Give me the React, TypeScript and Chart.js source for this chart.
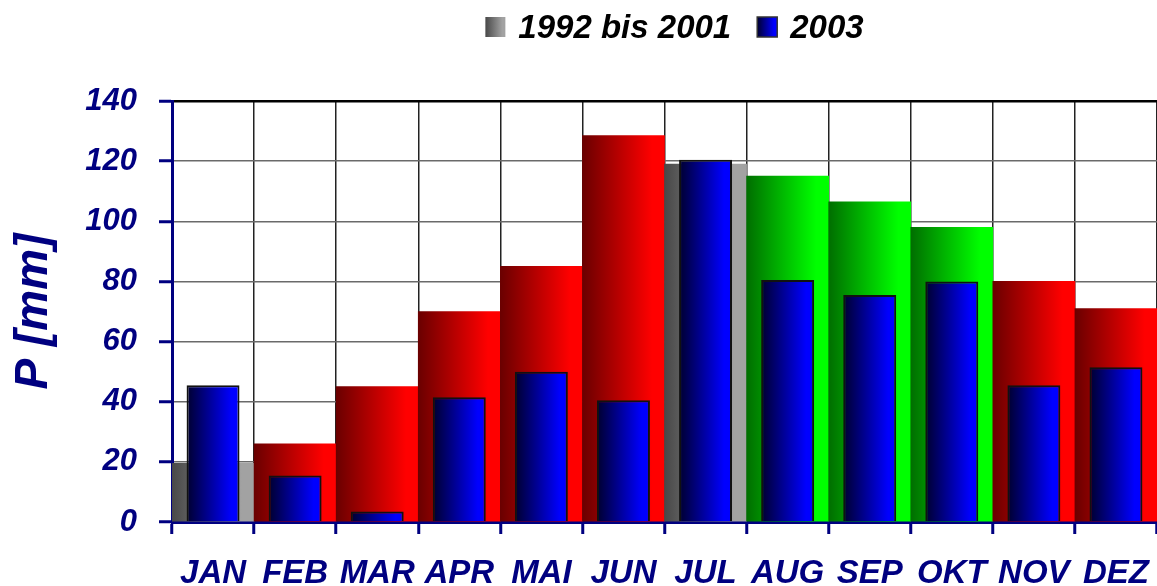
import { useEffect, useRef } from 'react';
import { Chart, registerables } from 'chart.js';

Chart.register(...registerables);

const months = ['JAN', 'FEB', 'MAR', 'APR', 'MAI', 'JUN', 'JUL', 'AUG', 'SEP', 'OKT', 'NOV', 'DEZ'];
const mean1992to2001 = [19.5, 26, 45, 70, 85, 128.5, 119, 115, 106.5, 98, 80, 71];
const year2003 = [45.5, 15.5, 3.5, 41.5, 50, 40.5, 120.5, 80.5, 75.5, 80, 45.5, 51.5];
const meanTones = ['gray', 'red', 'red', 'red', 'red', 'red', 'gray', 'green', 'green', 'green', 'red', 'red'];
const seriesLabels = ['1992 bis 2001', '2003'];
const yMin = 0;
const yMax = 140;
const yStep = 20;

const NAVY = '#000080';
const FONT = '"Liberation Sans", Arial, sans-serif';

const tonePalette: Record<string, [string, string]> = {
  gray: ['#484848', '#a2a2a2'],
  red: ['#6a0000', '#ff0000'],
  green: ['#006e00', '#00ff00'],
  blue: ['#00002e', '#0000ff'],
};

function barGradient(ctx: CanvasRenderingContext2D, x0: number, x1: number, tone: string) {
  const [a, b] = tonePalette[tone];
  const g = ctx.createLinearGradient(x0, 0, x1, 0);
  g.addColorStop(0, a);
  g.addColorStop(0.85, b);
  g.addColorStop(1, b);
  return g;
}

function scriptableFill(widthFraction: number, toneFor: (i: number) => string) {
  return (c: any) => {
    const chart = c.chart;
    const area = chart.chartArea;
    const xs = chart.scales && chart.scales.x;
    const tone = toneFor(c.dataIndex ?? 0);
    if (!area || !xs || c.dataIndex === undefined) return tonePalette[tone][1];
    const cw = (area.right - area.left) / months.length;
    const cx = xs.getPixelForValue(c.dataIndex);
    const half = (cw * widthFraction) / 2;
    return barGradient(chart.ctx, cx - half, cx + half, tone);
  };
}

const legendPlugin = {
  id: 'topLegend',
  afterDraw(chart: any) {
    const ctx: CanvasRenderingContext2D = chart.ctx;
    ctx.save();
    ctx.font = `italic bold 33px ${FONT}`;
    ctx.textBaseline = 'alphabetic';
    ctx.textAlign = 'left';
    const box = 20;
    const gapText = 13;
    const gapItem = 26;
    const labels = chart.data.datasets.map((d: any) => d.label as string);
    const widths = labels.map((l: string) => ctx.measureText(l).width);
    let total = 0;
    widths.forEach((w: number, i: number) => {
      total += box + gapText + w + (i < widths.length - 1 ? gapItem : 0);
    });
    const area = chart.chartArea;
    const cx = (area.left + area.right) / 2 + 10;
    let x = cx - total / 2;
    const base = 38;
    labels.forEach((l: string, i: number) => {
      const tone = i === 0 ? 'gray' : 'blue';
      ctx.fillStyle = barGradient(ctx, x, x + box, tone);
      ctx.fillRect(x, base - box - 1, box, box);
      if (i === 1) {
        ctx.strokeStyle = '#333';
        ctx.lineWidth = 1.5;
        ctx.strokeRect(x, base - box - 1, box, box);
      }
      ctx.fillStyle = '#000';
      ctx.fillText(l, x + box + gapText, base);
      x += box + gapText + widths[i] + gapItem;
    });
    ctx.restore();
  },
};

export default function App() {
  const ref = useRef<HTMLCanvasElement | null>(null);

  useEffect(() => {
    document.body.style.margin = '0';
    if (!ref.current) return;
    const chart = new Chart(ref.current, {
      type: 'bar',
      data: {
        labels: months,
        datasets: [
          {
            label: seriesLabels[0],
            data: mean1992to2001,
            grouped: false,
            order: 2,
            barPercentage: 1,
            categoryPercentage: 1,
            borderWidth: 0,
            backgroundColor: scriptableFill(1, (i) => meanTones[i]),
          } as any,
          {
            label: seriesLabels[1],
            data: year2003,
            grouped: false,
            order: 1,
            barPercentage: 0.645,
            categoryPercentage: 1,
            borderWidth: 2,
            borderColor: '#111',
            borderSkipped: 'bottom',
            backgroundColor: scriptableFill(0.645, () => 'blue'),
          } as any,
        ],
      },
      options: {
        responsive: false,
        animation: false,
        devicePixelRatio: 1,
        layout: { padding: { top: 101, left: 0, right: 0, bottom: 0 } },
        plugins: {
          legend: { display: false },
          tooltip: { enabled: false },
        },
        scales: {
          x: {
            offset: true,
            afterFit: (s: any) => {
              s.height = 64;
              s.paddingLeft = 0;
              s.paddingRight = 0;
            },
            grid: {
              offset: true,
              color: '#222',
              lineWidth: 1.5,
              drawTicks: true,
              tickLength: 12,
              tickColor: NAVY,
              tickWidth: 3,
            },
            border: { display: true, color: NAVY, width: 3 },
            ticks: {
              autoSkip: false,
              maxRotation: 0,
              minRotation: 0,
              padding: 20,
              color: NAVY,
              font: { family: FONT, size: 33, weight: 'bold', style: 'italic' },
            },
          },
          y: {
            min: yMin,
            max: yMax,
            afterFit: (s: any) => {
              s.width = 172;
            },
            grid: {
              color: (c: any) => (c.tick && c.tick.value === yMax ? '#000' : '#6a6a6a'),
              lineWidth: (c: any) => (c.tick && c.tick.value === yMax ? 2.5 : 1.5),
              drawTicks: true,
              tickLength: 13,
              tickColor: NAVY,
              tickWidth: 3,
            },
            border: { display: true, color: NAVY, width: 3 },
            ticks: {
              stepSize: yStep,
              padding: 22,
              color: NAVY,
              font: { family: FONT, size: 31, weight: 'bold', style: 'italic' },
            },
            title: {
              display: true,
              text: 'P [mm]',
              color: NAVY,
              padding: { top: 7, bottom: 0 },
              font: { family: FONT, size: 46, weight: 'bold', style: 'italic' },
            },
          },
        },
      },
      plugins: [legendPlugin],
    });
    return () => chart.destroy();
  }, []);

  return (
    <div style={{ width: 1157, height: 586, position: 'relative' }}>
      <canvas ref={ref} width={1157} height={586} />
    </div>
  );
}
